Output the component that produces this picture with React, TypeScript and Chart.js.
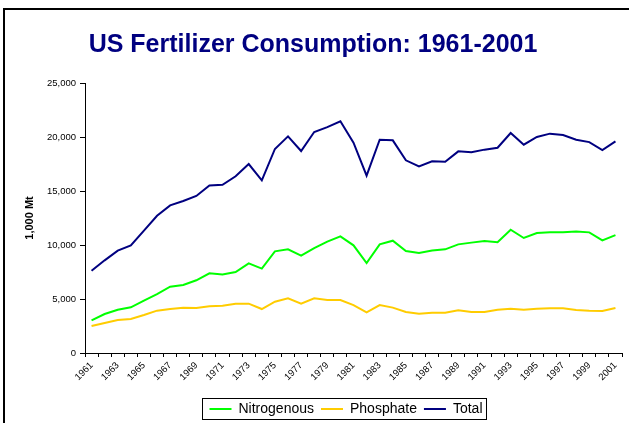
import React, { useEffect, useRef } from "react";
import { Chart, registerables } from "chart.js";

Chart.register(...registerables);

const years: string[] = [
  "1961", "1962", "1963", "1964", "1965", "1966", "1967", "1968", "1969", "1970",
  "1971", "1972", "1973", "1974", "1975", "1976", "1977", "1978", "1979", "1980",
  "1981", "1982", "1983", "1984", "1985", "1986", "1987", "1988", "1989", "1990",
  "1991", "1992", "1993", "1994", "1995", "1996", "1997", "1998", "1999", "2000",
  "2001",
];

const nitrogenous: number[] = [
  3020, 3610, 4010, 4230, 4850, 5460, 6140, 6300, 6730, 7380,
  7280, 7500, 8300, 7810, 9410, 9600, 9010, 9720, 10310, 10800,
  9970, 8330, 10060, 10400, 9440, 9260, 9500, 9600, 10060, 10220,
  10370, 10250, 11420, 10650, 11110, 11170, 11170, 11260, 11170, 10430,
  10920,
];

const phosphate: number[] = [
  2500, 2780, 3050, 3150, 3520, 3920, 4070, 4200, 4170, 4320,
  4380, 4570, 4570, 4070, 4750, 5060, 4570, 5060, 4910, 4910,
  4440, 3770, 4440, 4200, 3800, 3640, 3730, 3730, 3950, 3800,
  3800, 4010, 4100, 4010, 4100, 4140, 4140, 3980, 3920, 3890,
  4170,
];

const total: number[] = [
  7620, 8580, 9480, 9970, 11330, 12710, 13670, 14070, 14540, 15520,
  15580, 16360, 17500, 15990, 18890, 20060, 18700, 20460, 20920, 21450,
  19470, 16420, 19750, 19690, 17840, 17280, 17750, 17710, 18670, 18580,
  18830, 19010, 20370, 19290, 20000, 20310, 20180, 19750, 19530, 18790,
  19600,
];

const yTicks: number[] = [0, 5000, 10000, 15000, 20000, 25000];

const FONT = "Arial, 'Liberation Sans', sans-serif";

const framePlugin = {
  id: "frame",
  beforeDraw(chart: any) {
    const ctx = chart.ctx;
    ctx.save();
    ctx.fillStyle = "#ffffff";
    ctx.fillRect(0, 0, chart.width, chart.height);
    ctx.strokeStyle = "#000000";
    ctx.lineWidth = 2;
    ctx.strokeRect(4, 9, chart.width + 20, chart.height + 20);
    ctx.restore();
  },
};

const legendShiftPlugin = {
  id: "legendShift",
  afterLayout(chart: any) {
    const lg = chart.legend;
    if (!lg) return;
    lg.left += 33;
    lg.right += 33;
  },
};

const legendBoxPlugin = {
  id: "legendBox",
  afterDraw(chart: any) {
    const lg = chart.legend;
    if (!lg || !lg.legendHitBoxes || !lg.legendHitBoxes.length) return;
    const hb = lg.legendHitBoxes;
    let l = Infinity, r = -Infinity, t = Infinity, b = -Infinity;
    hb.forEach((h: any) => {
      l = Math.min(l, h.left);
      r = Math.max(r, h.left + h.width);
      t = Math.min(t, h.top);
      b = Math.max(b, h.top + h.height);
    });
    const ctx = chart.ctx;
    ctx.save();
    ctx.strokeStyle = "#000000";
    ctx.lineWidth = 1;
    ctx.strokeRect(Math.round(l - 7) + 0.5, Math.round(t - 4) + 0.5, Math.round(r - l + 11), Math.round(b - t + 7));
    ctx.restore();
  },
};

export default function App() {
  const ref = useRef<HTMLCanvasElement | null>(null);

  useEffect(() => {
    if (!ref.current) return;
    const chart = new Chart(ref.current, {
      type: "line",
      data: {
        labels: years,
        datasets: [
          {
            label: "Nitrogenous",
            data: nitrogenous,
            borderColor: "#00ff00",
            backgroundColor: "#00ff00",
            borderWidth: 2,
            pointRadius: 0,
            tension: 0,
          },
          {
            label: "Phosphate",
            data: phosphate,
            borderColor: "#ffcc00",
            backgroundColor: "#ffcc00",
            borderWidth: 2,
            pointRadius: 0,
            tension: 0,
          },
          {
            label: "Total",
            data: total,
            borderColor: "#000080",
            backgroundColor: "#000080",
            borderWidth: 2,
            pointRadius: 0,
            tension: 0,
          },
        ],
      },
      options: {
        responsive: false,
        animation: false,
        devicePixelRatio: 1,
        layout: { padding: { top: 10, left: 4, right: 7, bottom: 0 } },
        plugins: {
          title: {
            display: true,
            text: "US Fertilizer Consumption: 1961-2001",
            color: "#000080",
            font: { family: FONT, size: 25, weight: "bold" },
            padding: { top: 20, bottom: 23 },
          },
          legend: {
            display: true,
            position: "bottom",
            labels: {
              usePointStyle: true,
              pointStyle: "line",
              pointStyleWidth: 22,
              color: "#000000",
              font: { family: FONT, size: 14 },
              padding: 7,
            },
          },
          tooltip: { enabled: false },
        },
        scales: {
          x: {
            type: "category",
            offset: true,
            grid: {
              display: true,
              drawOnChartArea: false,
              drawTicks: true,
              offset: true,
              tickLength: 4,
              color: "#000000",
            },
            border: { display: true, color: "#000000", width: 1 },
            ticks: {
              autoSkip: false,
              maxRotation: 45,
              minRotation: 45,
              color: "#000000",
              padding: 3,
              font: { family: FONT, size: 9.5 },
              callback: function (this: any, value: any, index: number) {
                return index % 2 === 0 ? this.getLabelForValue(value) : "";
              },
            },
            afterFit: (scale: any) => {
              scale.height = 42;
            },
          },
          y: {
            min: 0,
            max: 25000,
            afterBuildTicks: (scale: any) => {
              scale.ticks = yTicks.map((v) => ({ value: v }));
            },
            grid: {
              display: true,
              drawOnChartArea: false,
              drawTicks: true,
              tickLength: 5,
              color: "#000000",
            },
            border: { display: true, color: "#000000", width: 1 },
            ticks: {
              color: "#000000",
              padding: 4,
              font: { family: FONT, size: 9.5 },
              callback: (v: any) => Number(v).toLocaleString("en-US"),
            },
            title: {
              display: true,
              text: "1,000 Mt",
              color: "#000000",
              font: { family: FONT, size: 11, weight: "bold" },
              padding: { top: 19, bottom: 0 },
            },
            afterFit: (scale: any) => {
              scale.width = 81;
            },
          },
        },
      },
      plugins: [framePlugin, legendShiftPlugin, legendBoxPlugin],
    });
    return () => chart.destroy();
  }, []);

  return (
    <div style={{ position: "absolute", left: 0, top: 0, width: 629, height: 423, overflow: "hidden" }}>
      <canvas ref={ref} width={629} height={426} style={{ display: "block", width: 629, height: 426 }} />
    </div>
  );
}
